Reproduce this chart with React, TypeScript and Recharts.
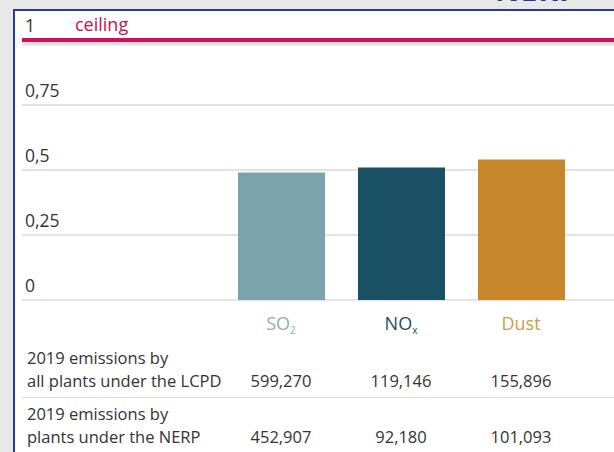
import React from "react";
import { BarChart, Bar, XAxis, YAxis, CartesianGrid, ReferenceLine, Cell } from "recharts";

const categories = ["SO2", "NOx", "Dust"];
const ratios = [0.49, 0.51, 0.54];
const barColors = ["#7aa3ab", "#1a5064", "#c8862a"];
const labelColors = ["#8db0b6", "#1b4f63", "#d39a45"];
const yTicks = [0, 0.25, 0.5, 0.75, 1];
const rowLabels = [
  ["2019 emissions by", "all plants under the LCPD"],
  ["2019 emissions by", "plants under the NERP"],
];
const lcpdValues = ["599,270", "119,146", "155,896"];
const nerpValues = ["452,907", "92,180", "101,093"];
const ceilingValue = 1;

const data = categories.map((c, i) => ({ name: c, value: ratios[i] }));
const FONT = "'Open Sans', 'Noto Sans', sans-serif";

const YTick = (props: any) => {
  const { y, payload } = props;
  const label = String(payload.value).replace(".", ",");
  return (
    <text x={25} y={y - 8} textAnchor="start" fontSize={17.5} fill="#333" fontFamily={FONT}>
      {label}
    </text>
  );
};

const XTick = (props: any) => {
  const { x, y, payload } = props;
  const idx = categories.indexOf(payload.value);
  const color = labelColors[idx];
  let content: React.ReactNode = payload.value;
  if (payload.value === "SO2") {
    content = (
      <>
        <tspan>SO</tspan>
        <tspan fontSize={10} dy={4}>2</tspan>
      </>
    );
  } else if (payload.value === "NOx") {
    content = (
      <>
        <tspan>NO</tspan>
        <tspan fontSize={10} dy={4}>x</tspan>
      </>
    );
  }
  return (
    <text x={x} y={y + 22} textAnchor="middle" fontSize={18} fill={color} fontFamily={FONT}>
      {content}
    </text>
  );
};

const CeilingLabel = (props: any) => {
  const { viewBox } = props;
  return (
    <text x={75} y={viewBox.y - 9} fontSize={18} fill="#c8104f" fontFamily={FONT}>
      ceiling
    </text>
  );
};

export default function App() {
  const centers = [281, 401, 521];
  return (
    <div
      style={{
        position: "absolute",
        left: 0,
        top: 0,
        width: 614,
        height: 452,
        overflow: "hidden",
        background: "#e8e8e8",
        fontFamily: FONT,
      }}
    >
      <div
        style={{
          position: "absolute",
          left: 495,
          top: -25,
          fontSize: 30,
          fontWeight: 700,
          color: "#1f3c8e",
          lineHeight: 1,
          letterSpacing: 1,
        }}
      >
        NERP
      </div>
      <div
        style={{
          position: "absolute",
          left: 13,
          top: 9,
          width: 620,
          height: 460,
          background: "#fff",
          borderLeft: "2px solid #2c3b8e",
          borderTop: "2px solid #2c3b8e",
        }}
      />
      <div style={{ position: "absolute", left: 0, top: 0 }}>
        <BarChart width={614} height={360} data={data} margin={{ top: 40, right: 0, left: 21, bottom: 30 }}>
          <CartesianGrid horizontal vertical={false} stroke="#e3e3e3" strokeWidth={2} />
          <XAxis
            dataKey="name"
            axisLine={false}
            tickLine={false}
            height={30}
            padding={{ left: 199, right: 33 }}
            tick={<XTick />}
            interval={0}
          />
          <YAxis
            width={1}
            domain={[0, 1]}
            ticks={yTicks}
            axisLine={false}
            tickLine={false}
            tick={<YTick />}
            interval={0}
          />
          <ReferenceLine y={0.988} stroke="rgba(0,0,0,0.12)" strokeWidth={5} />
          <ReferenceLine y={ceilingValue} stroke="#d1105a" strokeWidth={4} label={<CeilingLabel />} />
          <Bar dataKey="value" barSize={87} isAnimationActive={false}>
            {data.map((d, i) => (
              <Cell key={d.name} fill={barColors[i]} />
            ))}
          </Bar>
        </BarChart>
      </div>
      {[lcpdValues, nerpValues].map((vals, r) => {
        const top = 346 + r * 56;
        return (
          <div key={r}>
            <div
              style={{
                position: "absolute",
                left: 27,
                top,
                fontSize: 16.5,
                lineHeight: "23px",
                color: "#333",
                whiteSpace: "nowrap",
              }}
            >
              {rowLabels[r][0]}
              <br />
              {rowLabels[r][1]}
            </div>
            {vals.map((v, i) => (
              <div
                key={i}
                style={{
                  position: "absolute",
                  left: centers[i] - 50,
                  width: 100,
                  textAlign: "center",
                  top: top + 23,
                  fontSize: 16.5,
                  lineHeight: "23px",
                  color: "#333",
                }}
              >
                {v}
              </div>
            ))}
            <div
              style={{
                position: "absolute",
                left: 22,
                top: top + 51,
                width: 600,
                height: 1,
                background: "#dcdcdc",
              }}
            />
          </div>
        );
      })}
    </div>
  );
}
